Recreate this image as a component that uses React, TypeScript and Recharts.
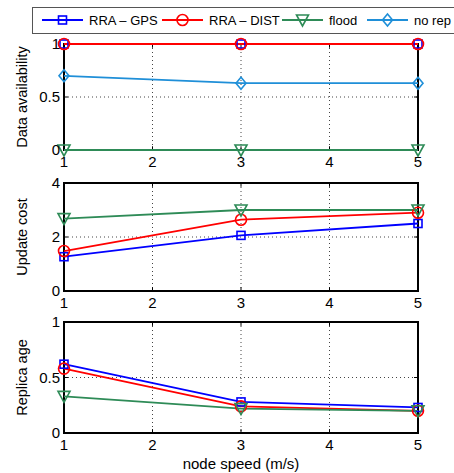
import React from 'react';
import { LineChart, Line, XAxis, YAxis, CartesianGrid, ReferenceArea, ReferenceLine } from 'recharts';

// node speed (m/s)
const speeds = [1, 3, 5];
const xTicks = [1, 2, 3, 4, 5];

// Data availability
const gpsAvail = [1, 1, 1];
const distAvail = [1, 1, 1];
const floodAvail = [0, 0, 0];
const noRepAvail = [0.7, 0.63, 0.63];
const availTicks = [0, 0.5, 1];

// Update cost
const gpsCost = [1.27, 2.06, 2.5];
const distCost = [1.48, 2.64, 2.9];
const floodCost = [2.68, 3.0, 3.0];
const costTicks = [0, 2, 4];

// Replica age
const gpsAge = [0.62, 0.28, 0.23];
const distAge = [0.58, 0.24, 0.2];
const floodAge = [0.33, 0.22, 0.2];
const ageTicks = [0, 0.5, 1];

const FONT = '"Liberation Sans", Arial, Helvetica, sans-serif';

type Shape = 'square' | 'circle' | 'triangle' | 'diamond';

const SERIES: { key: string; name: string; color: string; shape: Shape }[] = [
  { key: 'gps', name: 'RRA – GPS', color: '#0000ff', shape: 'square' },
  { key: 'dist', name: 'RRA – DIST', color: '#ff0000', shape: 'circle' },
  { key: 'flood', name: 'flood', color: '#2e8b57', shape: 'triangle' },
  { key: 'norep', name: 'no rep', color: '#1f8fd8', shape: 'diamond' },
];

const Marker = ({ cx, cy, shape, color }: { cx: number; cy: number; shape: Shape; color: string }) => {
  const common = { fill: 'none', stroke: color, strokeWidth: 1.6 };
  if (shape === 'square') return <rect x={cx - 4} y={cy - 4} width={8} height={8} {...common} />;
  if (shape === 'circle') return <circle cx={cx} cy={cy} r={5.5} {...common} />;
  if (shape === 'triangle')
    return <polygon points={`${cx - 6},${cy - 5} ${cx + 6},${cy - 5} ${cx},${cy + 6}`} {...common} />;
  return <polygon points={`${cx},${cy - 6} ${cx + 5},${cy} ${cx},${cy + 6} ${cx - 5},${cy}`} {...common} />;
};

const YLabel = ({ viewBox, text }: any) => {
  const cy = viewBox.y + viewBox.height / 2;
  return (
    <text x={22} y={cy} transform={`rotate(-90, 22, ${cy})`} textAnchor="middle" dominantBaseline="central"
      fontSize={14.5} fontFamily={FONT} fill="#000">
      {text}
    </text>
  );
};

interface PanelProps {
  top: number;
  height: number;
  marginTop: number;
  data: any[];
  keys: string[];
  yTicks: number[];
  yLabel: string;
}

const Panel: React.FC<PanelProps> = ({ top, height, marginTop, data, keys, yTicks, yLabel }) => {
  const ymin = yTicks[0];
  const ymax = yTicks[yTicks.length - 1];
  const tx = 0.035 * (ymax - ymin);
  const ty = 0.045;
  const innerX = xTicks.slice(1, -1);
  const innerY = yTicks.slice(1, -1);
  return (
    <div style={{ position: 'absolute', left: 0, top }}>
      <LineChart width={454} height={height + 8} data={data} margin={{ top: marginTop, right: 36, bottom: 0, left: 0 }}>
        <CartesianGrid stroke="#444" strokeDasharray="1 3" />
        <XAxis dataKey="x" type="number" domain={[1, 5]} ticks={xTicks} axisLine={false} tickLine={false}
          tickSize={0} tickMargin={6} height={28} tick={{ fontSize: 15, fill: '#000', fontFamily: FONT }} />
        <YAxis type="number" domain={[ymin, ymax]} ticks={yTicks} axisLine={false} tickLine={false}
          tickSize={0} tickMargin={4} width={64} tick={{ fontSize: 15, fill: '#000', fontFamily: FONT }}
          label={<YLabel text={yLabel} />} />
        {innerX.map(t => (
          <ReferenceLine key={`xb${t}`} segment={[{ x: t, y: ymin }, { x: t, y: ymin + tx }]} stroke="#000" strokeWidth={1} />
        ))}
        {innerX.map(t => (
          <ReferenceLine key={`xt${t}`} segment={[{ x: t, y: ymax }, { x: t, y: ymax - tx }]} stroke="#000" strokeWidth={1} />
        ))}
        {innerY.map(t => (
          <ReferenceLine key={`yl${t}`} segment={[{ x: 1, y: t }, { x: 1 + ty, y: t }]} stroke="#000" strokeWidth={1} />
        ))}
        {innerY.map(t => (
          <ReferenceLine key={`yr${t}`} segment={[{ x: 5, y: t }, { x: 5 - ty, y: t }]} stroke="#000" strokeWidth={1} />
        ))}
        <ReferenceArea x1={1} x2={5} y1={ymin} y2={ymax} fill="none" stroke="#000" strokeWidth={2} />
        {SERIES.filter(s => keys.includes(s.key)).map(s => (
          <Line key={s.key} dataKey={s.key} stroke={s.color} strokeWidth={1.8} isAnimationActive={false}
            dot={(p: any) => <Marker key={`${s.key}${p.index}`} cx={p.cx} cy={p.cy} shape={s.shape} color={s.color} />} />
        ))}
      </LineChart>
    </div>
  );
};

const LegendBox = () => {
  const starts = [42, 162, 282, 367];
  return (
    <svg width={454} height={40} style={{ position: 'absolute', left: 0, top: 0 }}>
      <rect x={32.5} y={7.5} width={440} height={26} fill="#fff" stroke="#555" strokeWidth={1} />
      {SERIES.map((s, i) => {
        const x0 = starts[i];
        return (
          <g key={s.key}>
            <line x1={x0} x2={x0 + 41} y1={20} y2={20} stroke={s.color} strokeWidth={1.8} />
            <Marker cx={x0 + 20.5} cy={20} shape={s.shape} color={s.color} />
            <text x={x0 + 47} y={20} dominantBaseline="central" fontSize={13} fontFamily={FONT} fill="#000">{s.name}</text>
          </g>
        );
      })}
    </svg>
  );
};

export default function App() {
  const availData = speeds.map((x, i) => ({ x, gps: gpsAvail[i], dist: distAvail[i], flood: floodAvail[i], norep: noRepAvail[i] }));
  const costData = speeds.map((x, i) => ({ x, gps: gpsCost[i], dist: distCost[i], flood: floodCost[i] }));
  const ageData = speeds.map((x, i) => ({ x, gps: gpsAge[i], dist: distAge[i], flood: floodAge[i] }));

  return (
    <div style={{ position: 'absolute', left: 0, top: 0, width: 454, height: 473, overflow: 'hidden', background: '#fff', fontFamily: FONT }}>
      <Panel top={0} height={170} marginTop={44} data={availData} keys={['gps', 'dist', 'flood', 'norep']}
        yTicks={availTicks} yLabel="Data availability" />
      <Panel top={170} height={141} marginTop={13} data={costData} keys={['gps', 'dist', 'flood']}
        yTicks={costTicks} yLabel="Update cost" />
      <Panel top={311} height={142} marginTop={11} data={ageData} keys={['gps', 'dist', 'flood']}
        yTicks={ageTicks} yLabel="Replica age" />
      <div style={{ position: 'absolute', left: 0, width: 482, top: 455, textAlign: 'center', fontSize: 15, color: '#000' }}>
        node speed (m/s)
      </div>
      <LegendBox />
    </div>
  );
}
